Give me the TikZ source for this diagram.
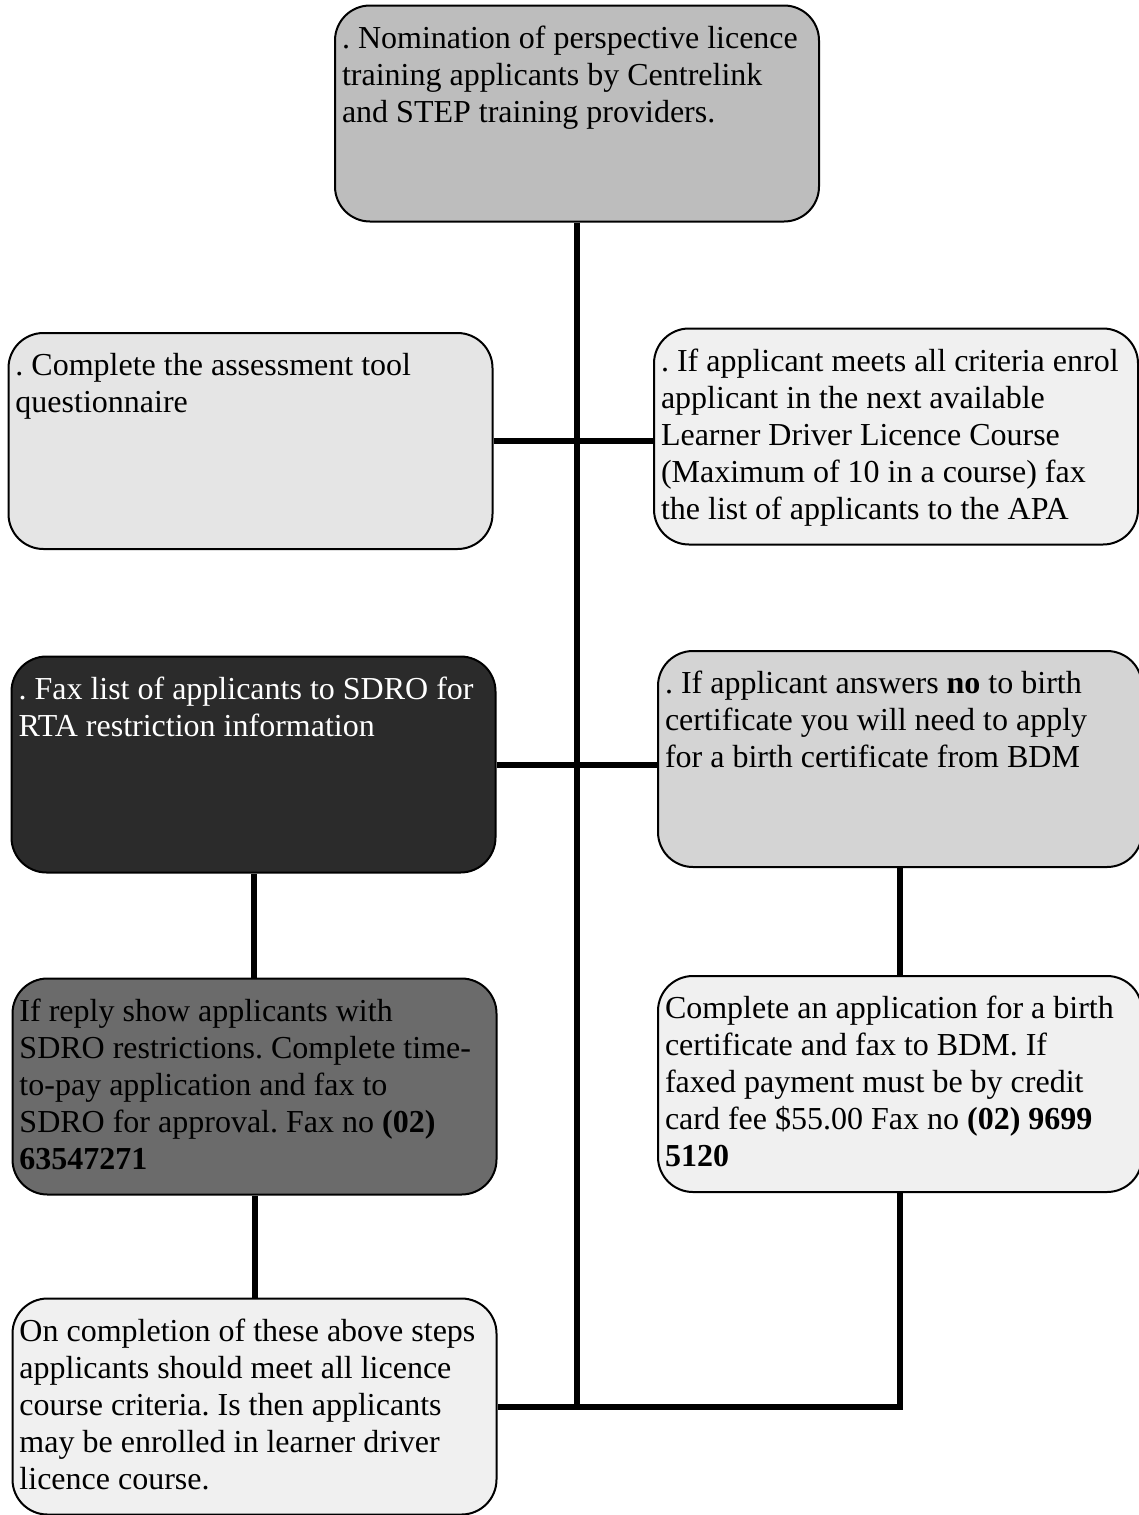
\documentclass[tikz,border=0pt]{standalone}
\usepackage{fontspec}
\setmainfont{Liberation Serif}
\frenchspacing
\definecolor{topgray}{gray}{0.74}
\definecolor{palegray}{gray}{0.90}
\definecolor{lightgray}{gray}{0.94}
\definecolor{midgray}{gray}{0.83}
\definecolor{darkgray}{gray}{0.17}
\definecolor{slategray}{gray}{0.42}
\newcommand\boxtext[1]{\parbox[c][176pt][t]{470pt}{\raggedright#1}}
\tikzset{
  stepbox/.style={draw, line width=2pt, rounded corners=35pt, inner sep=0pt,
    minimum width=484pt, minimum height=216pt, font=\fontsize{32}{37}\selectfont},
  link/.style={line width=6pt}
}
\begin{document}
\begin{tikzpicture}[x=1pt, y=-1pt]
    \useasboundingbox (0,0) rectangle (1139,1515);
    \node[stepbox, fill=topgray](top) at (577,113.5){\boxtext{. Nomination of perspective licence\\ training applicants by Centrelink\\ and STEP training providers.}};
    \node[stepbox, fill=palegray](assess) at (250.5,441){\boxtext{. Complete the assessment tool\\ questionnaire}};
    \node[stepbox, fill=lightgray](enrol) at (896,436.5){\boxtext{. If applicant meets all criteria enrol\\ applicant in the next available\\ Learner Driver Licence Course\\ (Maximum of 10 in a course) fax\\ the list of applicants to the APA}};
    \node[stepbox, fill=darkgray, text=white](sdro) at (253.5,764.5){\boxtext{. Fax list of applicants to SDRO for\\ RTA restriction information}};
    \node[stepbox, fill=midgray](birth) at (900,759){\boxtext{. If applicant answers \textbf{no} to birth\\ certificate you will need to apply\\ for a birth certificate from BDM}};
    \node[stepbox, fill=slategray](topay) at (254.5,1086.5){\boxtext{If reply show applicants with\\ SDRO restrictions. Complete time-\\ to-pay application and fax to\\ SDRO for approval. Fax no \textbf{(02)}\\ \textbf{63547271}}};
    \node[stepbox, fill=lightgray](bdm) at (900,1084){\boxtext{Complete an application for a birth\\ certificate and fax to BDM. If\\ faxed payment must be by credit\\ card fee \$55.00 Fax no \textbf{(02) 9699}\\ \textbf{5120}}};
    \node[stepbox, fill=lightgray](done) at (254.5,1406.5){\boxtext{On completion of these above steps\\ applicants should meet all licence\\ course criteria. Is then applicants\\ may be enrolled in learner driver\\ licence course.}};
    % connectors
    \draw[link](top.south)--(top.south |- done.east);
    \draw[link](assess.east)--(assess.east -| enrol.west);
    \draw[link](sdro.east)--(sdro.east -| birth.west);
    \draw[link](sdro.south)--(sdro.south |- topay.north);
    \draw[link](topay.south)--(topay.south |- done.north);
    \draw[link](birth.south)--(birth.south |- bdm.north);
    \draw[link](bdm.south)--(bdm.south |- done.east)--(done.east);
\end{tikzpicture}
\end{document}
